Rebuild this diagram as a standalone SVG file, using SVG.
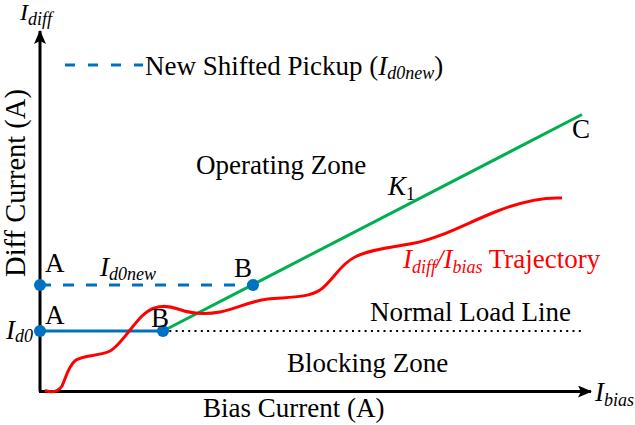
<svg xmlns="http://www.w3.org/2000/svg" width="635" height="425" viewBox="0 0 635 425">
<style>
text{font-family:"Liberation Serif","Times New Roman",serif;fill:#000;font-size:27px}
.it{font-style:italic}
.sub{font-size:18px;font-style:italic}
.red{fill:#FF0000}
.blue{stroke:#0070C0;stroke-width:3;fill:none}
.dot{fill:#0070C0}
</style>
<defs>
<marker id="arr" viewBox="0 0 14 12" refX="13" refY="6" markerWidth="14" markerHeight="12" markerUnits="userSpaceOnUse" orient="auto">
<path d="M0,0 L14,6 L0,12 L3,6 Z" fill="#000"/>
</marker>
</defs>
<rect width="635" height="425" fill="#fff"/>
<g id="axes">
<line x1="40" y1="391.5" x2="40" y2="31" stroke="#000" stroke-width="3" marker-end="url(#arr)"/>
<line x1="39" y1="391.5" x2="591" y2="391.5" stroke="#000" stroke-width="3" marker-end="url(#arr)"/>
</g>
<g id="connectors">
<line x1="65" y1="65" x2="143" y2="65" class="blue" stroke-dasharray="10 13"/>
<line x1="40" y1="285" x2="253" y2="285" class="blue" stroke-dasharray="11 12"/>
<line x1="40" y1="331" x2="163" y2="331" class="blue"/>
<line x1="163" y1="331" x2="582" y2="331" stroke="#000" stroke-width="2" stroke-dasharray="2 4.3"/>
<line x1="163" y1="331" x2="582" y2="114.5" stroke="#00B050" stroke-width="3"/>
<path d="M45,390.5 C52,393 58,392 62,386 C66,378 68,366 76,360 C84,355 100,356 110,351 C120,346 130,328 142,316 C152,306 164,304 178,309 C192,314 204,315 220,312 C236,309 250,301 268,299 C288,297 308,298 320,290 C332,282 340,264 355,257 C370,249 395,247 415,243 C440,238 465,224 495,212 C520,202 540,197 562,198" fill="none" stroke="#FF0000" stroke-width="3"/>
</g>
<g id="points">
<circle cx="40" cy="285" r="6" class="dot"/>
<circle cx="253" cy="285" r="6" class="dot"/>
<circle cx="40" cy="331" r="6" class="dot"/>
<circle cx="163" cy="331" r="6" class="dot"/>
</g>
<g id="labels">
<text x="20" y="20" class="it" style="font-size:24px">I<tspan class="sub" dy="5">diff</tspan></text>
<text x="25" y="183" transform="rotate(-90 25 183)" text-anchor="middle" style="font-size:28.5px">Diff Current (A)</text>
<text x="145" y="75">New Shifted Pickup (<tspan class="it">I</tspan><tspan class="sub" dy="4">d0new</tspan><tspan dy="-4">)</tspan></text>
<text x="196" y="174">Operating Zone</text>
<text x="388" y="195"><tspan class="it">K</tspan><tspan dy="5" style="font-size:18px">1</tspan></text>
<text x="572" y="138">C</text>
<text x="403" y="268" class="red"><tspan class="it">I</tspan><tspan class="sub" dy="5">diff</tspan><tspan class="it" dy="-5">/I</tspan><tspan class="sub" dy="5">bias</tspan><tspan dy="-5"> Trajectory</tspan></text>
<text x="370" y="321">Normal Load Line</text>
<text x="287" y="372">Blocking Zone</text>
<text x="203" y="417">Bias Current (A)</text>
<text x="595" y="401" class="it">I<tspan class="sub" dy="5">bias</tspan></text>
<text x="45" y="272">A</text>
<text x="45" y="324">A</text>
<text x="100" y="276" class="it">I<tspan class="sub" dy="4">d0new</tspan></text>
<text x="234" y="277">B</text>
<text x="151" y="327">B</text>
<text x="6" y="339" class="it">I<tspan class="sub" dy="3">d0</tspan></text>
</g>
</svg>
